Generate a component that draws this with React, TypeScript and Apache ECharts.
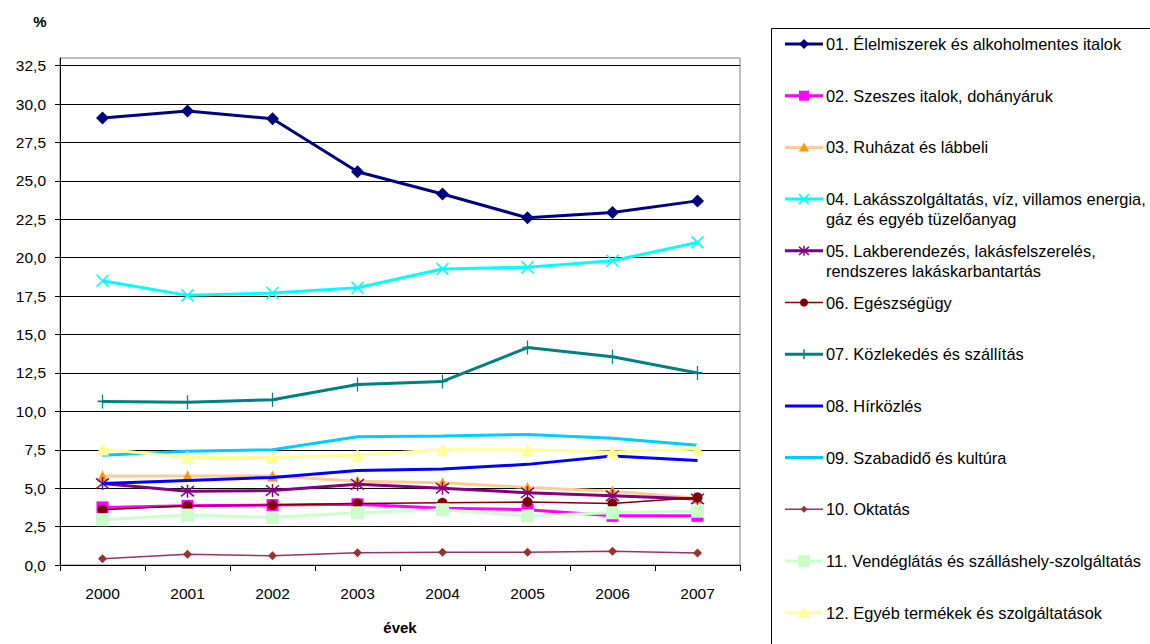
import React, { useEffect, useRef } from 'react';
import * as echarts from 'echarts';

const years = ['2000', '2001', '2002', '2003', '2004', '2005', '2006', '2007'];

const seriesNames = [
  '01. Élelmiszerek és alkoholmentes italok',
  '02. Szeszes italok, dohányáruk',
  '03. Ruházat és lábbeli',
  '04. Lakásszolgáltatás, víz, villamos energia,\ngáz és egyéb tüzelőanyag',
  '05. Lakberendezés, lakásfelszerelés,\nrendszeres lakáskarbantartás',
  '06. Egészségügy',
  '07. Közlekedés és szállítás',
  '08. Hírközlés',
  '09. Szabadidő és kultúra',
  '10. Oktatás',
  '11. Vendéglátás és szálláshely-szolgáltatás',
  '12. Egyéb termékek és szolgáltatások',
];

const s01 = [29.1, 29.55, 29.05, 25.6, 24.15, 22.6, 22.95, 23.7];
const s02 = [3.75, 3.85, 3.9, 3.95, 3.7, 3.6, 3.2, 3.2];
const s03 = [5.8, 5.8, 5.8, 5.45, 5.35, 5.05, 4.8, 4.35];
const s04 = [18.5, 17.55, 17.7, 18.05, 19.27, 19.38, 19.8, 21.0];
const s05 = [5.3, 4.8, 4.85, 5.25, 5.0, 4.7, 4.5, 4.3];
const s06 = [3.6, 3.85, 3.9, 4.0, 4.05, 4.1, 4.0, 4.4];
const s07 = [10.65, 10.6, 10.75, 11.75, 11.95, 14.15, 13.55, 12.5];
const s08 = [5.3, 5.5, 5.7, 6.15, 6.25, 6.55, 7.1, 6.8];
const s09 = [7.15, 7.4, 7.5, 8.35, 8.4, 8.5, 8.25, 7.8];
const s10 = [0.4, 0.7, 0.6, 0.8, 0.83, 0.83, 0.9, 0.78];
const s11 = [2.95, 3.25, 3.1, 3.4, 3.6, 3.2, 3.4, 3.5];
const s12 = [7.55, 7.0, 7.0, 7.15, 7.5, 7.5, 7.35, 7.55];

const seriesData = [s01, s02, s03, s04, s05, s06, s07, s08, s09, s10, s11, s12];

const FONT = '"Liberation Sans", Arial, sans-serif';

type Style = {
  line: string;
  width: number;
  marker: string; // diamond, square, triangle, x, star, plus, circle, none
  mColor: string;
  size: number;
  lsize: number;
};

const styles: Style[] = [
  { line: '#000080', width: 3, marker: 'diamond', mColor: '#000080', size: 13, lsize: 10 },
  { line: '#FF00FF', width: 3, marker: 'square', mColor: '#FF00FF', size: 12, lsize: 10 },
  { line: '#FFCC99', width: 3, marker: 'triangle', mColor: '#FF9900', size: 11, lsize: 10 },
  { line: '#00FFFF', width: 3, marker: 'x', mColor: '#00FFFF', size: 12, lsize: 10 },
  { line: '#800080', width: 3, marker: 'star', mColor: '#800080', size: 13, lsize: 10 },
  { line: '#800000', width: 1.5, marker: 'circle', mColor: '#800000', size: 10, lsize: 8 },
  { line: '#008080', width: 3, marker: 'plus', mColor: '#008080', size: 12, lsize: 10 },
  { line: '#0000FF', width: 3, marker: 'none', mColor: '#0000FF', size: 0, lsize: 0 },
  { line: '#00CCFF', width: 3, marker: 'none', mColor: '#00CCFF', size: 0, lsize: 0 },
  { line: '#993366', width: 1.5, marker: 'diamond', mColor: '#993333', size: 9, lsize: 7 },
  { line: '#CCFFCC', width: 3, marker: 'square', mColor: '#CCFFCC', size: 13, lsize: 12 },
  { line: '#FFFF99', width: 3, marker: 'triangle', mColor: '#FFFF99', size: 13, lsize: 12 },
];

function chartSymbol(st: Style): { symbol: string; symbolSize: any; stroke: boolean } {
  switch (st.marker) {
    case 'diamond':
      return { symbol: 'diamond', symbolSize: st.size, stroke: false };
    case 'square':
      return { symbol: 'rect', symbolSize: st.size, stroke: false };
    case 'triangle':
      return { symbol: 'triangle', symbolSize: st.size, stroke: false };
    case 'circle':
      return { symbol: 'circle', symbolSize: st.size, stroke: false };
    case 'x':
      return { symbol: 'path://M0,0L10,10M10,0L0,10', symbolSize: st.size, stroke: true };
    case 'star':
      return { symbol: 'path://M0,1L10,9M10,1L0,9M5,0L5,10', symbolSize: st.size, stroke: true };
    case 'plus':
      return { symbol: 'path://M5,0L5,14M0,7L10,7', symbolSize: [10, 14], stroke: true };
    default:
      return { symbol: 'none', symbolSize: 0, stroke: false };
  }
}

function legendMarker(st: Style, cx: number, cy: number): any[] {
  const s = st.lsize / 2;
  const c = st.mColor;
  switch (st.marker) {
    case 'diamond':
      return [{ type: 'polygon', shape: { points: [[cx, cy - s], [cx + s, cy], [cx, cy + s], [cx - s, cy]] }, style: { fill: c } }];
    case 'square':
      return [{ type: 'rect', shape: { x: cx - s, y: cy - s, width: 2 * s, height: 2 * s }, style: { fill: c } }];
    case 'triangle':
      return [{ type: 'polygon', shape: { points: [[cx, cy - s], [cx + s, cy + s * 0.8], [cx - s, cy + s * 0.8]] }, style: { fill: c } }];
    case 'circle':
      return [{ type: 'circle', shape: { cx, cy, r: s }, style: { fill: c } }];
    case 'x':
      return [
        { type: 'line', shape: { x1: cx - s, y1: cy - s, x2: cx + s, y2: cy + s }, style: { stroke: c, lineWidth: 1.5 } },
        { type: 'line', shape: { x1: cx + s, y1: cy - s, x2: cx - s, y2: cy + s }, style: { stroke: c, lineWidth: 1.5 } },
      ];
    case 'star':
      return [
        { type: 'line', shape: { x1: cx - s, y1: cy - s * 0.8, x2: cx + s, y2: cy + s * 0.8 }, style: { stroke: c, lineWidth: 1.5 } },
        { type: 'line', shape: { x1: cx + s, y1: cy - s * 0.8, x2: cx - s, y2: cy + s * 0.8 }, style: { stroke: c, lineWidth: 1.5 } },
        { type: 'line', shape: { x1: cx, y1: cy - s, x2: cx, y2: cy + s }, style: { stroke: c, lineWidth: 1.5 } },
      ];
    case 'plus':
      return [
        { type: 'line', shape: { x1: cx, y1: cy - s, x2: cx, y2: cy + s }, style: { stroke: c, lineWidth: 1.5 } },
      ];
    default:
      return [];
  }
}

function buildLegend(): any[] {
  const els: any[] = [];
  els.push({
    type: 'rect',
    shape: { x: 771.5, y: 28.5, width: 500, height: 700 },
    style: { fill: '#fff', stroke: '#000', lineWidth: 1 },
    silent: true,
  });
  seriesNames.forEach((name, i) => {
    const st = styles[i];
    const cy = 44 + i * 51.7;
    els.push({
      type: 'line',
      shape: { x1: 785, y1: cy, x2: 823, y2: cy },
      style: { stroke: st.line, lineWidth: st.width },
      silent: true,
    });
    legendMarker(st, 804, cy).forEach((m) => els.push({ ...m, silent: true }));
    els.push({
      type: 'text',
      x: 826,
      y: cy - 10,
      style: {
        text: name,
        fill: '#000',
        font: `16.4px ${FONT}`,
        lineHeight: 20,
        verticalAlign: 'top',
        align: 'left',
      },
      silent: true,
    });
  });
  els.push({
    type: 'text',
    x: 40,
    y: 21,
    style: { text: '%', fill: '#000', font: `bold 15px ${FONT}`, align: 'center', verticalAlign: 'middle' },
    silent: true,
  });
  return els;
}

export default function App() {
  const ref = useRef<HTMLDivElement>(null);
  useEffect(() => {
    if (!ref.current) return;
    const chart = echarts.init(ref.current, null, { renderer: 'svg' });
    const series = seriesData.map((data, i) => {
      const st = styles[i];
      const sym = chartSymbol(st);
      return {
        name: seriesNames[i],
        type: 'line',
        data,
        symbol: sym.symbol,
        symbolSize: sym.symbolSize,
        showSymbol: sym.symbol !== 'none',
        lineStyle: { color: st.line, width: st.width },
        itemStyle: sym.stroke
          ? { color: 'rgba(0,0,0,0)', borderColor: st.mColor, borderWidth: 1.5 }
          : { color: st.mColor, borderWidth: 0 },
        emphasis: { disabled: true },
        silent: true,
        z: 2 + i * 0.01,
      };
    });
    chart.setOption({
      animation: false,
      backgroundColor: '#fff',
      textStyle: { fontFamily: FONT },
      grid: {
        left: 60,
        top: 58,
        width: 680,
        height: 507,
        show: true,
        borderColor: '#808080',
        borderWidth: 1,
        backgroundColor: 'rgba(0,0,0,0)',
      },
      xAxis: {
        type: 'category',
        data: years,
        boundaryGap: true,
        name: 'évek',
        nameLocation: 'middle',
        nameGap: 55,
        nameTextStyle: { fontWeight: 'bold', fontSize: 15, color: '#000', fontFamily: FONT },
        axisLine: { lineStyle: { color: '#000', width: 1 } },
        axisTick: { show: true, length: 6, lineStyle: { color: '#000' } },
        axisLabel: { fontSize: 15.5, color: '#000', margin: 20, fontFamily: FONT },
        splitLine: { show: false },
      },
      yAxis: {
        type: 'value',
        min: 0,
        max: 33,
        interval: 2.5,
        axisLine: { show: true, lineStyle: { color: '#000', width: 1 } },
        axisTick: { show: true, length: 5, lineStyle: { color: '#000' } },
        axisLabel: {
          fontSize: 15.5,
          color: '#000',
          margin: 14,
          fontFamily: FONT,
          showMaxLabel: false,
          formatter: (v: number) => (v > 32.6 ? '' : v.toFixed(1).replace('.', ',')),
        },
        splitLine: { show: true, showMaxLine: false, lineStyle: { color: '#000', width: 1 } },
      },
      series,
      graphic: { elements: buildLegend() },
    });
    return () => chart.dispose();
  }, []);
  return (
    <div
      ref={ref}
      style={{ position: 'absolute', left: 0, top: 0, width: 1150, height: 644 }}
    />
  );
}
